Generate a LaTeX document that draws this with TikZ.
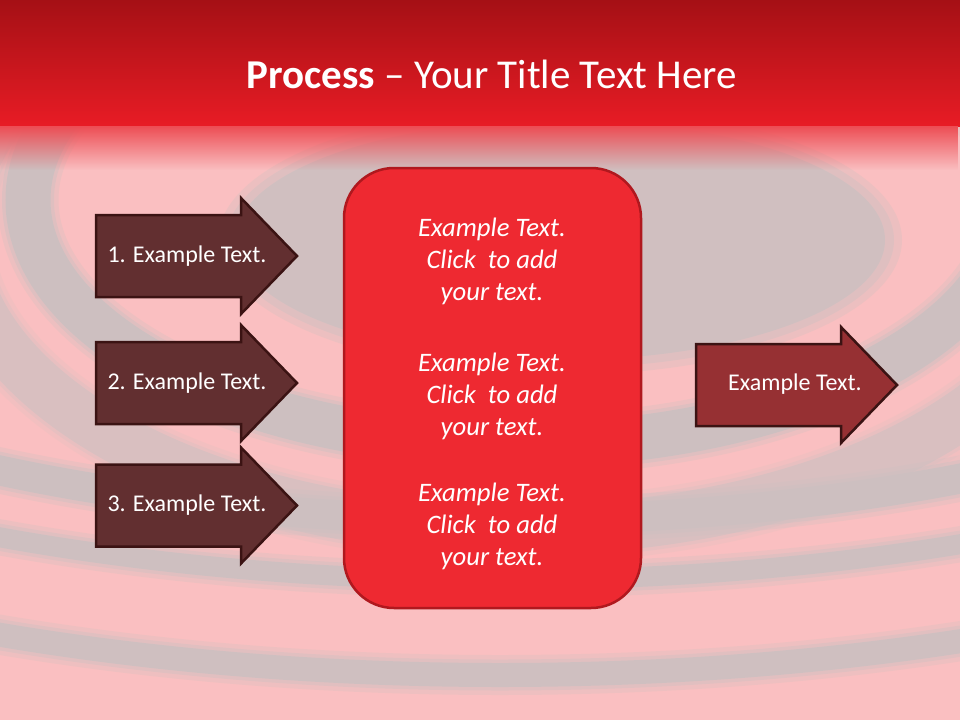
\documentclass[tikz,border=0pt]{standalone}
\usepackage{fontspec}
\setmainfont{Carlito}
\usetikzlibrary{fadings}
\definecolor{pinkbg}{HTML}{FABFC1}
\definecolor{ringgrey}{HTML}{CDBFC0}
\definecolor{bandtop}{HTML}{A51015}
\definecolor{bandbot}{HTML}{E81C25}
\definecolor{arrowdark}{HTML}{622F30}
\definecolor{arrowedge}{HTML}{3B1313}
\definecolor{arrowmid}{HTML}{963033}
\definecolor{boxred}{HTML}{EE2931}
\definecolor{boxedge}{HTML}{B0181E}
\newcommand\softring[6]{%
  \draw[ringgrey, opacity=0.30*#6, line width=#5+16] (#1,#2) ellipse [x radius=#3, y radius=#4];
  \draw[ringgrey, opacity=0.45*#6, line width=#5+7] (#1,#2) ellipse [x radius=#3, y radius=#4];
  \draw[ringgrey, opacity=#6, line width=#5] (#1,#2) ellipse [x radius=#3, y radius=#4];}
\newcommand\procshape[3]{%
  \draw[#3] (#1,#2-41) -- (#1+145,#2-41) -- (#1+145,#2-58) -- (#1+201,#2)
    -- (#1+145,#2+58) -- (#1+145,#2+41) -- (#1,#2+41) -- cycle;}
\tikzset{
  darkarrow/.style={fill=arrowdark, draw=arrowedge, line width=2.5, line join=miter},
  midarrow/.style={fill=arrowmid, draw=arrowedge, line width=2.5, line join=miter},
  arrowtext/.style={text=white, font=\fontsize{24}{29}\selectfont, inner sep=0},
  boxtext/.style={text=white, font=\fontsize{26.67}{32}\selectfont\itshape, align=center, inner sep=0},
  boxstyle/.style={draw=boxedge, fill=boxred, line width=2.5, rounded corners=50, minimum width=297, minimum height=440, inner sep=0},
}
\begin{document}
\begin{tikzpicture}[x=1pt,y=-1pt]
\useasboundingbox (0,0) rectangle (960,720);
\fill[pinkbg] (0,0) rectangle (960,720);
\begin{scope}
  \clip (0,0) rectangle (960,720);
  \fill[ringgrey, opacity=0.3] (560,240) ellipse [x radius=342, y radius=135];
  \fill[ringgrey, opacity=0.4] (560,240) ellipse [x radius=334, y radius=128];
  \fill[ringgrey, opacity=0.8] (560,240) ellipse [x radius=325, y radius=120];
  \softring{520}{230}{560}{300}{50}{0.55}
  \softring{520}{200}{492}{245}{45}{0.95}
  \softring{500}{150}{1000}{370}{30}{0.95}
  \softring{500}{150}{1150}{430}{20}{0.9}
  \softring{500}{150}{1300}{525}{24}{0.85}
\end{scope}
% title band
\shade[top color=bandtop, bottom color=bandbot] (0,0) rectangle (960,126);
\fill[bandbot!70!pinkbg, path fading=south] (0,126) rectangle (960,170);
\node[text=white, font=\fontsize{41}{49}\selectfont, anchor=base, inner sep=0] (title) at (492,88) {\textbf{Process} – Your Title Text Here};
% left arrows
\procshape{96}{256}{darkarrow}
\procshape{96}{383}{darkarrow}
\procshape{96}{505.5}{darkarrow}
\node[arrowtext] (a1) at (187,256) {1. Example Text.};
\node[arrowtext] (a2) at (187,383) {2. Example Text.};
\node[arrowtext] (a3) at (187,505.5) {3. Example Text.};
% centre box
\node[boxstyle] (box) at (492.5,388) {};
\node[boxtext] (t1) at (492,261) {Example Text.\\Click\ \ to add\\your text.};
\node[boxtext] (t2) at (492,396) {Example Text.\\Click\ \ to add\\your text.};
\node[boxtext] (t3) at (492,526) {Example Text.\\Click\ \ to add\\your text.};
% right arrow
\procshape{696}{385}{midarrow}
\node[arrowtext] (out) at (795,384) {Example Text.};
\end{tikzpicture}
\end{document}
